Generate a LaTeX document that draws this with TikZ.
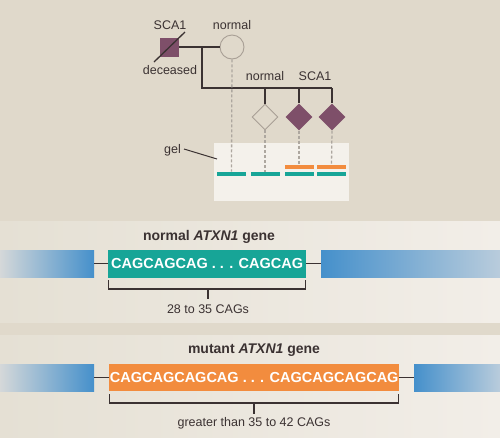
\documentclass[tikz,border=0pt]{standalone}
\usepackage{fontspec}
\setmainfont{Liberation Sans}
\usetikzlibrary{shapes.geometric}
\definecolor{tanbg}{HTML}{E0D9CB}
\definecolor{bandL}{HTML}{E5E0D4}
\definecolor{bandR}{HTML}{F2EEE8}
\definecolor{gelfill}{HTML}{F4F1EB}
\definecolor{sca}{HTML}{7E4F69}
\definecolor{tealc}{HTML}{17A597}
\definecolor{orangec}{HTML}{F28C3E}
\definecolor{bluec}{HTML}{4590CB}
\definecolor{bluefadeL}{HTML}{D5D8D9}
\definecolor{bluefadeR}{HTML}{B9CCDC}
\definecolor{darkline}{HTML}{3B3232}
\definecolor{grayline}{HTML}{A89F95}
\definecolor{dashgray}{HTML}{ADA79F}
\tikzset{
  lbl/.style={font=\fontsize{12.5}{14}\selectfont, text=darkline, inner sep=0pt},
  ttl/.style={font=\fontsize{14}{16}\selectfont\bfseries, text=darkline, inner sep=0pt},
  seqbox/.style={font=\fontsize{14.5}{16}\selectfont\bfseries, text=white, inner sep=0pt, minimum height=28pt},
  kin/.style={draw=darkline, line width=1.8pt},
  brk/.style={draw=darkline, line width=1.4pt},
  lane/.style={draw=dashgray, line width=1.3pt, dash pattern=on 3pt off 2pt},
  affected/.style={diamond, aspect=1, fill=sca, minimum width=27pt, minimum height=27pt, inner sep=0pt},
  unaffected/.style={diamond, aspect=1, draw=grayline, line width=0.9pt, fill=tanbg, minimum width=26pt, minimum height=26pt, inner sep=0pt},
  tealband/.style={fill=tealc, inner sep=0pt, minimum height=4.5pt},
  orangeband/.style={fill=orangec, inner sep=0pt, minimum height=4.5pt},
}
\begin{document}
\begin{tikzpicture}[x=1pt, y=-1pt]
\useasboundingbox (0,0) rectangle (500,437);
% backgrounds
\fill[tanbg] (0,0) rectangle (500,437);
\shade[left color=bandL, right color=bandR] (0,221) rectangle (500,322);
\shade[left color=bandL, right color=bandR] (0,335) rectangle (500,437);

% pedigree
\node[fill=sca, minimum size=19pt, inner sep=0pt] (father) at (169.5,47) {};
\node[circle, draw=grayline, line width=0.9pt, minimum size=24pt, inner sep=0pt] (mother) at (232,47) {};
\draw[darkline, line width=1.3pt] (154,62) -- (185,32);
\node[lbl] (fatherlbl) at (170,25) {SCA1};
\node[lbl] (declbl) at (170,70) {deceased};
\node[lbl] (motherlbl) at (232,25) {normal};
\draw[kin] (father.east) -- (mother.west);
\coordinate (mid) at (202,47);
\coordinate (sibL) at (202,88);
\coordinate (sibR) at (332,88);
\node[unaffected] (c1) at (265,117) {};
\node[affected] (c2) at (299,117) {};
\node[affected] (c3) at (332,117) {};
\draw[kin] (mid) -- (sibL) -- (sibR);
\draw[kin] (c1.north |- sibL) -- (c1.north);
\draw[kin] (c2.north |- sibL) -- (c2.north);
\draw[kin] (c3.north |- sibL) -- (c3.north);
\node[lbl] (c1lbl) at (265,76) {normal};
\node[lbl] (c23lbl) at (315,76) {SCA1};

% gel
\node[fill=gelfill, minimum width=135pt, minimum height=58pt, inner sep=0pt, anchor=north west] (gel) at (213.5,143) {};
\node[tealband, minimum width=29pt] (g1) at (231.5,174) {};
\node[tealband, minimum width=29pt] (g2) at (265,174) {};
\node[tealband, minimum width=29pt] (g3) at (299,174) {};
\node[tealband, minimum width=29pt] (g4) at (331.5,174) {};
\node[orangeband, minimum width=29pt] (o3) at (299,167) {};
\node[orangeband, minimum width=29pt] (o4) at (331.5,167) {};
\draw[lane] (mother.south) -- (g1.north);
\draw[lane] (c1.south) -- (g2.north);
\draw[lane] (c2.south) -- (o3.north);
\draw[lane] (c3.south) -- (o4.north);
\node[lbl, anchor=east] (gellbl) at (181,150) {gel};
\coordinate (gelpt) at (217,159);
\draw[darkline, line width=1pt] (184,149) -- (gelpt);

% normal gene
\node[ttl] (ntitle) at (209,237) {normal \textit{ATXN1} gene};
\node[seqbox, fill=tealc, minimum width=198pt, anchor=west] (nseq) at (108,263.5) {CAGCAGCAG . . . CAGCAG};
\shade[left color=bluefadeL, right color=bluec] (0,250) rectangle (94,277);
\shade[left color=bluec, right color=bluefadeR] (321,250) rectangle (500,277);
\coordinate (nL) at (94,263.5);
\coordinate (nR) at (321,263.5);
\draw[kin] (nL) -- (nseq.west);
\draw[kin] (nseq.east) -- (nR);
\coordinate (nb1) at (108.7,280);
\coordinate (nb2) at (305.3,280);
\draw[brk] (nb1) -- (108.7,289) -- (305.3,289) -- (nb2);
\draw[brk] (208,289) -- (208,299);
\node[lbl] (nlab) at (208,309.5) {28 to 35 CAGs};

% mutant gene
\node[ttl] (mtitle) at (254,350) {mutant \textit{ATXN1} gene};
\node[seqbox, fill=orangec, minimum width=290pt, minimum height=27pt, anchor=west] (mseq) at (109,377.5) {CAGCAGCAGCAG . . . CAGCAGCAGCAG};
\shade[left color=bluefadeL, right color=bluec] (0,364) rectangle (94,391.5);
\shade[left color=bluec, right color=bluefadeR] (414,364) rectangle (500,391.5);
\coordinate (mL) at (94,377.5);
\coordinate (mR) at (414,377.5);
\draw[kin] (mL) -- (mseq.west);
\draw[kin] (mseq.east) -- (mR);
\coordinate (mb1) at (109.7,394);
\coordinate (mb2) at (398.3,394);
\draw[brk] (mb1) -- (109.7,403) -- (398.3,403) -- (mb2);
\draw[brk] (254,403) -- (254,414);
\node[lbl] (mlab) at (254,423.5) {greater than 35 to 42 CAGs};
\end{tikzpicture}
\end{document}
